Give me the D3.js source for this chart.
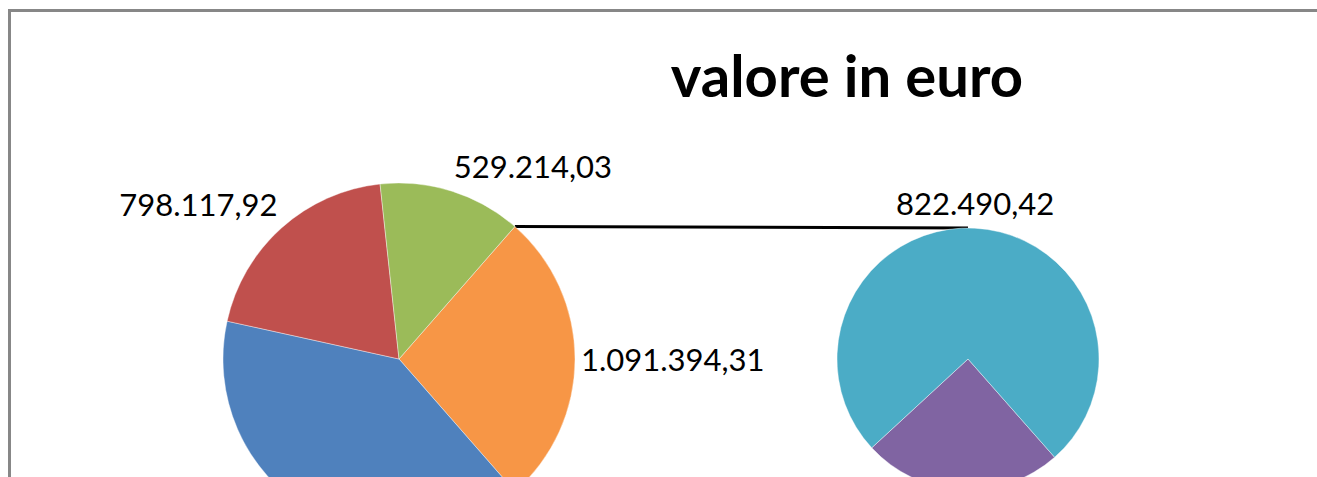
<!DOCTYPE html>
<html>
<head>
<meta charset="utf-8">
<script src="https://cdn.jsdelivr.net/npm/d3@7"></script>
<style>
  html, body { margin: 0; padding: 0; background: #fff; overflow: hidden; }
  text { font-family: Lato, "Open Sans", sans-serif; fill: #000; }
</style>
</head>
<body>
<div id="chart"></div>
<script>
// series values (the last two go into the second pie)
const categories = ["Voce 1", "Voce 2", "Voce 3", "Voce 4", "Voce 5"];
const values = [1604870.55, 798117.92, 529214.03, 268903.89, 822490.42];
const colors = ["#4F81BD", "#C0504D", "#9BBB59", "#8064A2", "#4BACC6"];
const otherName = "Altro";
const otherColor = "#F79646";
const secondCount = 2;
const title = "valore in euro";

const width = 1317, height = 477;
const mainC = { x: 399, y: 359, r: 176 };
const subC = { x: 968, y: 359, r: 131 };
const subStart = 138.6 * Math.PI / 180;

const fmt = d3.formatLocale({ decimal: ",", thousands: ".", grouping: [3], currency: ["", ""] }).format(",.2f");

const rows = categories.map((c, i) => ({ name: c, value: values[i], color: colors[i] }));
const mainRows = rows.slice(0, rows.length - secondCount);
const subRows = rows.slice(rows.length - secondCount);
const otherRow = { name: otherName, value: d3.sum(subRows, d => d.value), color: otherColor };

const total = d3.sum(rows, d => d.value);
// the "other" slice is centred on the right, facing the second pie
const otherHalf = Math.PI * otherRow.value / total;

const svg = d3.select("#chart").append("svg")
    .attr("width", width)
    .attr("height", height);

// chart border (runs off the picture on the right and bottom)
svg.append("rect")
    .attr("x", 9.5).attr("y", 10.5)
    .attr("width", 1400).attr("height", 600)
    .attr("fill", "none")
    .attr("stroke", "#878787")
    .attr("stroke-width", 3);

svg.append("text")
    .attr("x", 847).attr("y", 97)
    .attr("text-anchor", "middle")
    .style("font-size", "58px")
    .style("font-weight", "bold")
    .text(title);

const mainPie = d3.pie().sort(null).value(d => d.value)
    .startAngle(Math.PI / 2 - otherHalf)
    .endAngle(Math.PI / 2 - otherHalf + 2 * Math.PI);
const subPie = d3.pie().sort(null).value(d => d.value)
    .startAngle(subStart)
    .endAngle(subStart + 2 * Math.PI);

const mainArcs = mainPie([otherRow, ...mainRows]);
const subArcs = subPie(subRows);

const otherArc = mainArcs[0];

// connector lines from the "other" slice to the top and bottom of the second pie
const pt = (c, a, r) => [c.x + r * Math.sin(a), c.y - r * Math.cos(a)];
[[otherArc.startAngle, 0], [otherArc.endAngle, Math.PI]].forEach(([a, b]) => {
    const p1 = pt(mainC, a, mainC.r), p2 = pt(subC, b, subC.r);
    svg.append("line")
        .attr("x1", p1[0]).attr("y1", p1[1])
        .attr("x2", p2[0]).attr("y2", p2[1])
        .attr("stroke", "#000")
        .attr("stroke-width", 3);
});

function drawPie(arcs, c) {
    const arc = d3.arc().innerRadius(0).outerRadius(c.r);
    const g = svg.append("g").attr("transform", `translate(${c.x},${c.y})`);
    g.selectAll("path")
        .data(arcs)
        .enter()
        .append("path")
        .attr("d", arc)
        .attr("fill", d => d.data.color)
        .attr("stroke", "#fff")
        .attr("stroke-width", 0.4);

    // outside-end labels: nearest corner of the label touches the point beyond the rim
    arcs.forEach(d => {
        const mid = (d.startAngle + d.endAngle) / 2;
        const [px, py] = pt(c, mid, c.r + 6);
        const t = svg.append("text")
            .style("font-size", "31px")
            .text(fmt(d.data.value));
        const b = t.node().getBBox();
        const s = Math.sin(mid), co = Math.cos(mid);
        const left = s > 0.15 ? px : s < -0.15 ? px - b.width : px - b.width / 2;
        const top = co > 0.15 ? py - b.height : co < -0.15 ? py : py - b.height / 2;
        // labels that fall below the cropped picture are not drawn
        if (top >= height) { t.remove(); return; }
        t.attr("x", left - b.x).attr("y", top - b.y);
    });
}

drawPie(mainArcs, mainC);
drawPie(subArcs, subC);
</script>
</body>
</html>
